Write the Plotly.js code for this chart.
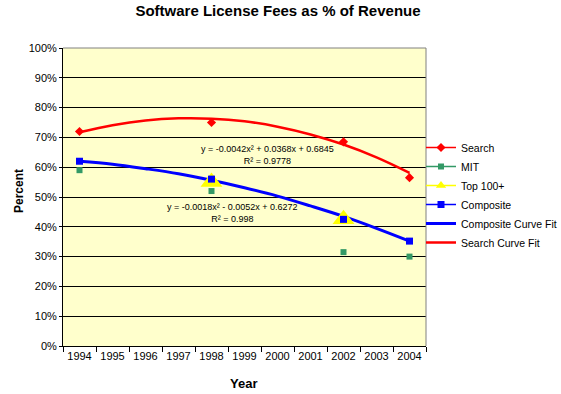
<!DOCTYPE html>
<html>
<head>
<meta charset="utf-8">
<script src="https://cdn.plot.ly/plotly-3.0.1.min.js"></script>
<style>html,body{margin:0;padding:0;background:#fff;}#chart{width:561px;height:394px;}</style>
</head>
<body>
<div id="chart"></div>
<script>
var years = ['1994','1995','1996','1997','1998','1999','2000','2001','2002','2003','2004'];
var search = [0.72, null, null, null, 0.75, null, null, null, 0.685, null, 0.565];
var mit = [0.59, null, null, null, 0.52, null, null, null, 0.315, null, 0.30];
var top100 = [null, null, null, null, 0.55, null, null, null, 0.425, null, null];
var composite = [0.62, null, null, null, 0.56, null, null, null, 0.425, null, 0.352];
var compositeFit = [0.62, 0.61, 0.595, 0.578, 0.556, 0.531, 0.503, 0.47, 0.435, 0.395, 0.352];
var searchFit = [0.717, 0.741, 0.757, 0.764, 0.763, 0.754, 0.736, 0.71, 0.676, 0.633, 0.581];
var searchEq = 'y = -0.0042x² + 0.0368x + 0.6845<br>R² = 0.9778';
var compositeEq = 'y = -0.0018x² - 0.0052x + 0.6272<br>R² = 0.998';

var F = 'Arial, "Liberation Sans", sans-serif';

var traces = [
  {x: years, y: compositeFit, name: 'Composite Curve Fit', mode: 'lines', line: {color: '#0000FF', width: 3, shape: 'spline'}, legendrank: 5},
  {x: years, y: searchFit, name: 'Search Curve Fit', mode: 'lines', line: {color: '#FF0000', width: 2.5, shape: 'spline'}, legendrank: 6},
  {x: years, y: mit, name: 'MIT', mode: 'lines+markers', connectgaps: false, line: {color: '#339966', width: 1.5}, marker: {symbol: 'square', size: 6, color: '#339966'}, legendrank: 2},
  {x: years, y: top100, name: 'Top 100+', mode: 'markers', marker: {symbol: 'triangle-up', size: 19, color: '#FFFF00'}, showlegend: false},
  {x: [years[0]], y: [null], name: 'Top 100+', mode: 'lines+markers', line: {color: '#FFFF00', width: 1.5}, marker: {symbol: 'triangle-up', size: 9, color: '#FFFF00'}, legendrank: 3},
  {x: years, y: composite, name: 'Composite', mode: 'lines+markers', connectgaps: false, line: {color: '#0000FF', width: 1.5}, marker: {symbol: 'square', size: 7, color: '#0000FF'}, legendrank: 4},
  {x: years, y: search, name: 'Search', mode: 'lines+markers', connectgaps: false, line: {color: '#FF0000', width: 1.5}, marker: {symbol: 'diamond', size: 7, color: '#FF0000'}, legendrank: 1}
];

var layout = {
  width: 561, height: 394,
  margin: {l: 63, r: 135, t: 48, b: 48, autoexpand: false},
  paper_bgcolor: '#FFFFFF',
  plot_bgcolor: '#FFFFCC',
  font: {family: F, size: 11, color: '#000'},
  title: {text: '<b>Software License Fees as % of Revenue</b>', font: {family: F, size: 15, color: '#000'}, x: 278/561, xanchor: 'center', xref: 'container', y: 1 - 11/394, yanchor: 'middle', yref: 'container'},
  xaxis: {type: 'category', range: [-0.5, 10.5], tickson: 'boundaries', tickangle: 0, ticks: 'outside', ticklen: 5, tickcolor: '#000', showline: true, linecolor: '#000', linewidth: 1, showgrid: false, zeroline: false, tickfont: {family: F, size: 11}, fixedrange: true, automargin: false},
  yaxis: {range: [0, 1], dtick: 0.1, tickformat: '.0%', ticks: 'outside', ticklen: 3, tickcolor: '#000', showline: true, linecolor: '#000', linewidth: 1, showgrid: true, gridcolor: '#000', gridwidth: 1, zeroline: false, tickfont: {family: F, size: 11}, fixedrange: true, automargin: false},
  legend: {x: (421 - 63) / 363, xanchor: 'left', y: (346 - 195) / 298, yanchor: 'middle', font: {family: F, size: 10.5, color: '#000'}, bgcolor: 'rgba(0,0,0,0)', borderwidth: 0},
  showlegend: true,
  shapes: [
    {type: 'line', xref: 'paper', yref: 'paper', x0: 1, x1: 1, y0: 0, y1: 1, line: {color: '#808080', width: 1}},
    {type: 'line', xref: 'paper', yref: 'paper', x0: 0, x1: 1, y0: 1, y1: 1, line: {color: '#808080', width: 1}}
  ],
  annotations: [
    {text: searchEq, xref: 'paper', yref: 'paper', x: (267 - 63) / 363, y: (346 - 155) / 298, xanchor: 'center', yanchor: 'middle', showarrow: false, align: 'center', font: {family: F, size: 9, color: '#000'}},
    {text: compositeEq, xref: 'paper', yref: 'paper', x: (232 - 63) / 363, y: (346 - 213) / 298, xanchor: 'center', yanchor: 'middle', showarrow: false, align: 'center', font: {family: F, size: 9, color: '#000'}},
    {text: '<b>Year</b>', xref: 'paper', yref: 'paper', x: (243 - 63) / 363, y: (346 - 383) / 298, xanchor: 'center', yanchor: 'middle', showarrow: false, font: {family: F, size: 13, color: '#000'}},
    {text: '<b>Percent</b>', xref: 'paper', yref: 'paper', x: (19 - 63) / 363, y: (346 - 191) / 298, xanchor: 'center', yanchor: 'middle', showarrow: false, textangle: -90, font: {family: F, size: 12, color: '#000'}}
  ]
};

Plotly.newPlot('chart', traces, layout, {staticPlot: true, displayModeBar: false});
</script>
</body>
</html>
